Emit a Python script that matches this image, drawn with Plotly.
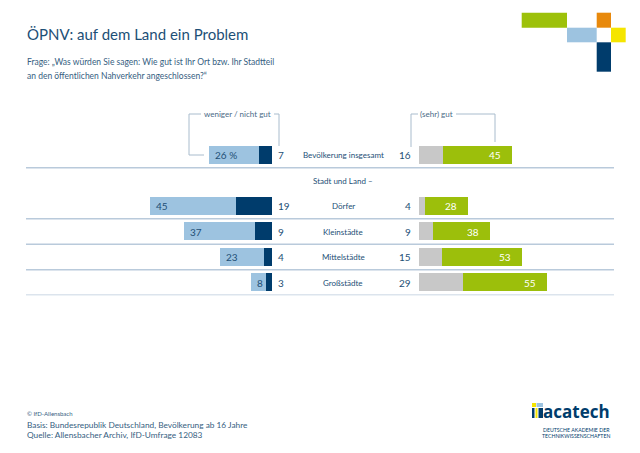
import plotly.graph_objects as go

# ---------------- data ----------------
categories = ["Bevölkerung insgesamt", "Stadt und Land –", "Dörfer", "Kleinstädte", "Mittelstädte", "Großstädte"]
weniger = [26, None, 45, 37, 23, 8]        # weniger gut (light blue)
nicht_gut = [7, None, 19, 9, 4, 3]         # gar nicht gut (dark blue)
gut = [16, None, 4, 9, 15, 29]             # gut (grey)
sehr_gut = [45, None, 28, 38, 53, 55]      # sehr gut (green)
inner_labels = ["26 %", None, "45", "37", "23", "8"]

title = "ÖPNV: auf dem Land ein Problem"
subtitle1 = "Frage: „Was würden Sie sagen: Wie gut ist Ihr Ort bzw. Ihr Stadtteil"
subtitle2 = "an den öffentlichen Nahverkehr angeschlossen?“"
footer_copy = "© IfD-Allensbach"
footer1 = "Basis: Bundesrepublik Deutschland, Bevölkerung ab 16 Jahre"
footer2 = "Quelle: Allensbacher Archiv, IfD-Umfrage 12083"

# ---------------- style ----------------
W, H = 640, 453
FONT = "Lato, sans-serif"
C_LIGHT = "#9dc3e0"
C_DARK = "#003c6c"
C_GREY = "#c8c8c8"
C_GREEN = "#9cbf0b"
C_TEXT = "#1d4f76"
C_SUB = "#36607f"
C_LINE = "#b9cadb"

def px(x):
    return x / W

def py(y):
    return 1 - y / H

idx = [i for i, v in enumerate(weniger) if v is not None]
ycats = [categories[i] for i in idx]

fig = go.Figure()
bw = 0.70
# left side: dark segment at centre, light segment outward
fig.add_trace(go.Bar(y=ycats, x=[nicht_gut[i] for i in idx], base=[0] * len(idx),
                     orientation="h", marker=dict(color=C_DARK, line=dict(width=0)), width=bw,
                     xaxis="x", yaxis="y", hoverinfo="skip", showlegend=False))
fig.add_trace(go.Bar(y=ycats, x=[weniger[i] for i in idx], base=[nicht_gut[i] for i in idx],
                     orientation="h", marker=dict(color=C_LIGHT, line=dict(width=0)), width=bw,
                     xaxis="x", yaxis="y", hoverinfo="skip", showlegend=False))
# right side
fig.add_trace(go.Bar(y=ycats, x=[gut[i] for i in idx], base=[0] * len(idx),
                     orientation="h", marker=dict(color=C_GREY, line=dict(width=0)), width=bw,
                     xaxis="x2", yaxis="y", hoverinfo="skip", showlegend=False))
fig.add_trace(go.Bar(y=ycats, x=[sehr_gut[i] for i in idx], base=[gut[i] for i in idx],
                     orientation="h", marker=dict(color=C_GREEN, line=dict(width=0)), width=bw,
                     xaxis="x2", yaxis="y", hoverinfo="skip", showlegend=False))

NUM = 10
ann = []
for i in idx:
    c = categories[i]
    ann.append(dict(x=nicht_gut[i] + weniger[i], y=c, xref="x", yref="y", text=inner_labels[i],
                    xanchor="left", xshift=4, showarrow=False, font=dict(family=FONT, size=NUM, color=C_TEXT)))
    ann.append(dict(x=0, y=c, xref="x", yref="y", text=str(nicht_gut[i]),
                    xanchor="left", xshift=4, showarrow=False, font=dict(family=FONT, size=NUM, color=C_TEXT)))
    ann.append(dict(x=0, y=c, xref="x2", yref="y", text=str(gut[i]),
                    xanchor="right", xshift=-6, showarrow=False, font=dict(family=FONT, size=NUM, color=C_TEXT)))
    ann.append(dict(x=gut[i] + sehr_gut[i], y=c, xref="x2", yref="y", text=str(sehr_gut[i]),
                    xanchor="right", xshift=-9, showarrow=False, font=dict(family=FONT, size=NUM, color="white")))
for c in categories:
    ann.append(dict(x=px(343), y=c, xref="paper", yref="y", text=c, xanchor="center", showarrow=False,
                    font=dict(family=FONT, size=8, color=C_TEXT)))

ann += [
    dict(x=px(25), y=py(34), xref="paper", yref="paper", text=title, xanchor="left", yanchor="middle",
         showarrow=False, font=dict(family=FONT, size=15, color=C_TEXT)),
    dict(x=px(25), y=py(62), xref="paper", yref="paper", text=subtitle1, xanchor="left", yanchor="middle",
         showarrow=False, font=dict(family=FONT, size=8.5, color=C_SUB)),
    dict(x=px(25), y=py(76), xref="paper", yref="paper", text=subtitle2, xanchor="left", yanchor="middle",
         showarrow=False, font=dict(family=FONT, size=8.5, color=C_SUB)),
    dict(x=px(237.5), y=py(114), xref="paper", yref="paper", text="weniger / nicht gut", xanchor="center",
         yanchor="middle", showarrow=False, font=dict(family=FONT, size=8, color="#4a6a86")),
    dict(x=px(436.5), y=py(114), xref="paper", yref="paper", text="(sehr) gut", xanchor="center",
         yanchor="middle", showarrow=False, font=dict(family=FONT, size=8, color="#4a6a86")),
    dict(x=px(25), y=py(413), xref="paper", yref="paper", text=footer_copy, xanchor="left", yanchor="middle",
         showarrow=False, font=dict(family=FONT, size=6, color=C_SUB)),
    dict(x=px(25), y=py(425), xref="paper", yref="paper", text=footer1, xanchor="left", yanchor="middle",
         showarrow=False, font=dict(family=FONT, size=8.3, color=C_SUB)),
    dict(x=px(25), y=py(435), xref="paper", yref="paper", text=footer2, xanchor="left", yanchor="middle",
         showarrow=False, font=dict(family=FONT, size=8.3, color=C_SUB)),
    dict(x=px(612), y=py(411), xref="paper", yref="paper", text="<b>acatech</b>", xanchor="right", yanchor="middle",
         showarrow=False, font=dict(family="Open Sans, sans-serif", size=17, color=C_DARK)),
    dict(x=px(612), y=py(430), xref="paper", yref="paper", text="DEUTSCHE AKADEMIE DER", xanchor="right",
         yanchor="middle", showarrow=False, font=dict(family=FONT, size=5.2, color=C_DARK)),
    dict(x=px(612), y=py(436), xref="paper", yref="paper", text="TECHNIKWISSENSCHAFTEN", xanchor="right",
         yanchor="middle", showarrow=False, font=dict(family=FONT, size=5.2, color=C_DARK)),
]

shapes = []
for yv in [0.5, 2.5, 3.5, 4.5, 5.5]:
    shapes.append(dict(type="line", xref="paper", yref="y", x0=px(26), x1=px(614), y0=yv, y1=yv,
                       line=dict(color=C_LINE, width=1.3)))

def seg(x0, y0, x1, y1):
    return dict(type="line", xref="paper", yref="paper", x0=px(x0), y0=py(y0), x1=px(x1), y1=py(y1),
                line=dict(color="#a9bccd", width=1))

shapes += [seg(204, 155, 189, 155), seg(189, 155, 189, 114), seg(189, 114, 201, 114),
           seg(274, 114, 279, 114), seg(279, 114, 279, 146),
           seg(411, 147, 411, 114), seg(411, 114, 418, 114),
           seg(456, 114, 495, 114), seg(495, 114, 495, 142)]

def rect(x0, y0, x1, y1, color):
    return dict(type="rect", xref="paper", yref="paper", x0=px(x0), y0=py(y0), x1=px(x1), y1=py(y1),
                fillcolor=color, line=dict(width=0), layer="above")

shapes += [rect(521.7, 12.7, 567, 27.7, "#9dc10a"), rect(596.7, 12.7, 611, 27.7, "#e8890c"),
           rect(567, 27.7, 596.7, 42.3, C_LIGHT), rect(611, 27.7, 625.7, 42.3, "#f5e500"),
           rect(596.7, 42.3, 611, 71.7, C_DARK)]
shapes += [rect(532, 403, 536, 407, "#f5e500"), rect(536.5, 403, 543, 407, C_LIGHT),
           rect(532, 408, 534.5, 418, C_DARK), rect(535.5, 408, 537.5, 418, "#f5e500"),
           rect(538.5, 408, 543, 418, C_DARK)]

yr0, yr1 = 142.25, 295.25
fig.update_layout(
    width=W, height=H, margin=dict(l=0, r=0, t=0, b=0),
    paper_bgcolor="white", plot_bgcolor="white",
    barmode="overlay", bargap=0,
    xaxis=dict(domain=[px(26), px(272)], range=[246 / 1.91, 0], visible=False, fixedrange=True),
    xaxis2=dict(domain=[px(419), px(614)], range=[0, 195 / 1.52], visible=False, fixedrange=True),
    yaxis=dict(domain=[py(yr1), py(yr0)], type="category", categoryorder="array", categoryarray=categories,
               range=[5.5, -0.5], visible=False, fixedrange=True),
    annotations=ann, shapes=shapes, showlegend=False,
    font=dict(family=FONT),
)

fig.write_html("out.html", config={"displayModeBar": False})
